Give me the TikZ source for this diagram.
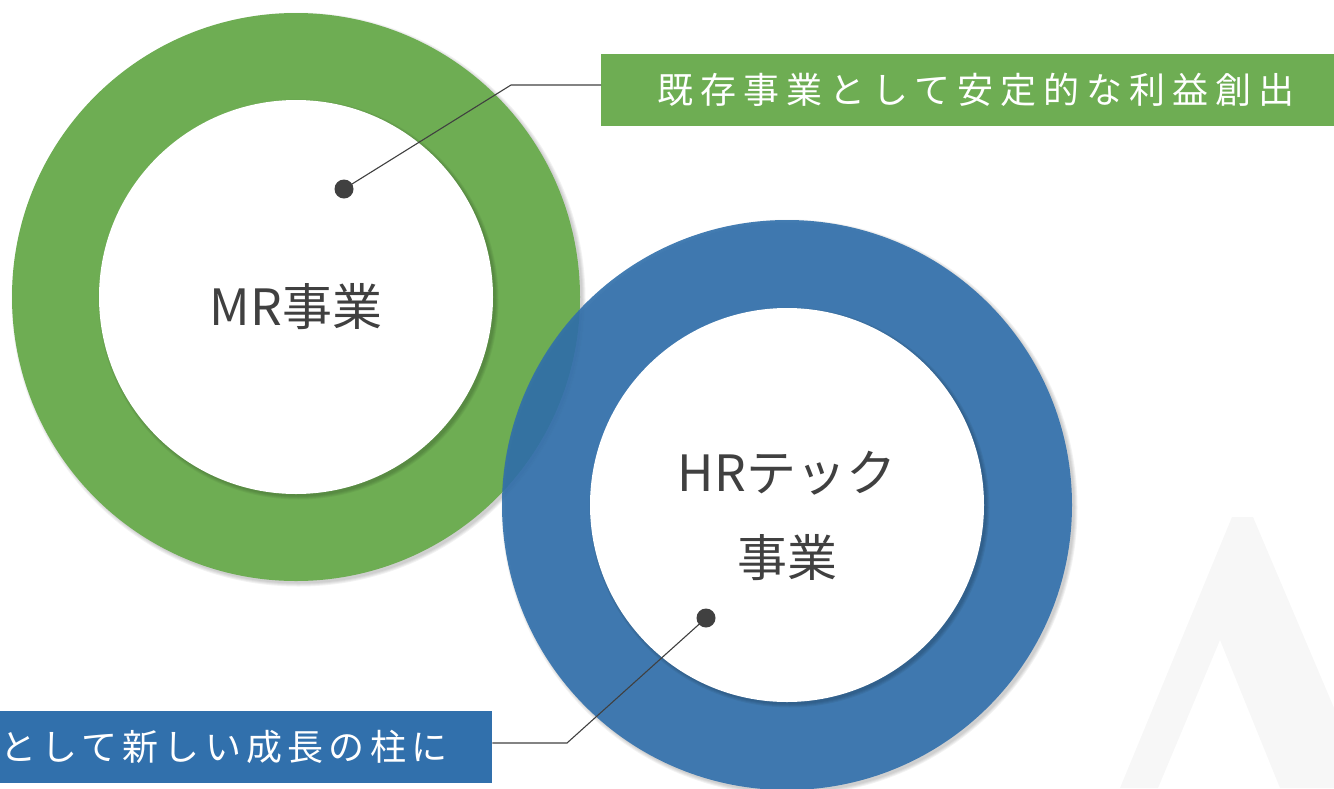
\documentclass[tikz,border=0pt]{standalone}
\usepackage{fontspec}
\setmainfont{Noto Sans CJK JP}
\usetikzlibrary{calc}
\definecolor{mrgreen}{HTML}{6EAD53}
\definecolor{hrblue}{HTML}{3170AC}
\definecolor{inkgray}{HTML}{404040}
\definecolor{markgray}{HTML}{F7F7F7}
\tikzset{
  disc/.style={circle, inner sep=0pt, minimum size=#1},
  dotmark/.style={circle, fill=inkgray, inner sep=0pt, minimum size=19pt},
  leader/.style={draw=inkgray, line width=1.1pt},
  ringname/.style={text=inkgray, font=\fontsize{50}{85}\selectfont, align=center},
  labelbox/.style={inner sep=0pt, minimum height=72pt, anchor=north west},
  labeltext/.style={text=white, inner sep=0pt, font=\fontsize{36}{40}\selectfont}
}
\newcommand{\softshadow}[2]{
  \foreach \i in {1,...,4}{
    \fill[black, opacity=0.05] ($(#1)+(2.5,2.5)$) circle ({#2+\i-1});
  }
}
\begin{document}
\begin{tikzpicture}[x=1pt, y=-1pt]
  \useasboundingbox (0,0) rectangle (1334,788);
  \clip (0,0) rectangle (1334,788);

  \fill[markgray] (1120,788) -- (1232,517) -- (1253,517) -- (1368,788)
    -- (1280,788) -- (1220,640) -- (1158,788) -- cycle;

  % MR ring
  \softshadow{296,297}{284}
  \node[disc=568pt, fill=mrgreen] (mrOuter) at (296,297) {};
  \softshadow{296,297}{197}
  \node[disc=394pt, fill=white] (mrInner) at (296,297) {};
  \node[ringname] (mrName) at (296,307) {MR事業};

  % HR ring
  \softshadow{787,505}{285}
  \node[disc=570pt, fill=hrblue, fill opacity=0.9] (hrOuter) at (787,505) {};
  \softshadow{787,505}{197}
  \node[disc=394pt, fill=white] (hrInner) at (787,505) {};
  \node[ringname] (hrName) at (787,516) {HRテック\\事業};

  % labels
  \node[labelbox, fill=mrgreen, minimum width=733pt] (mrLabel) at (601,54) {};
  \node[labeltext, anchor=west] (mrText) at (657,90)
    {\addfontfeature{LetterSpace=19.5}既存事業として安定的な利益創出};
  \node[labelbox, fill=hrblue, minimum width=492pt] (hrLabel) at (0,711) {};
  \node[labeltext, anchor=west] (hrText) at (0,747)
    {\addfontfeature{LetterSpace=14.5}として新しい成長の柱に};

  \node[dotmark] (mrDot) at (344,189) {};
  \coordinate (mrBend) at (511,85);
  \draw[leader] (mrDot.center) -- (mrBend) -- (mrBend -| mrLabel.west);

  \node[dotmark] (hrDot) at (706,618) {};
  \coordinate (hrBend) at (567,743);
  \draw[leader] (hrDot.center) -- (hrBend) -- (hrBend -| hrLabel.east);
\end{tikzpicture}
\end{document}
